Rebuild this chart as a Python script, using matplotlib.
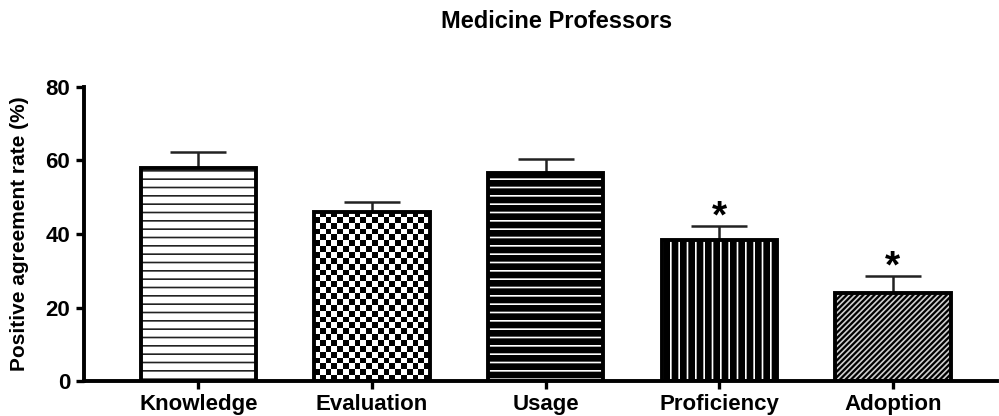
import numpy as np
import matplotlib
matplotlib.use("Agg")
from matplotlib import pyplot as plt

plt.rcParams['font.family'] = ['Liberation Sans', 'DejaVu Sans']
plt.rcParams['hatch.linewidth'] = 1.2

categories = ['Knowledge', 'Evaluation', 'Usage', 'Proficiency', 'Adoption']
rates = [58.0, 46.1, 56.5, 38.4, 24.0]
errors = [4.3, 2.7, 3.9, 3.8, 4.6]
significant = [False, False, False, True, True]
yticks = [0, 20, 40, 60, 80]

fig = plt.figure(figsize=(9.99, 4.16), dpi=100)
ax = fig.add_axes([0.084, 0.084, 0.914, 0.707])

x = np.arange(len(categories))
w = 0.665

ax.set_xlim(-0.66, 4.6)
ax.set_ylim(0, 80)

# fill styles per bar: (face, hatch colour, hatch)
styles = [('white', '#222222', '--'),
          (None, None, None),          # checkerboard drawn as image
          ('black', 'white', '--'),
          ('black', 'white', '||'),
          ('black', '#d0d0d0', '//////')]

for i, (face, hc, hatch) in enumerate(styles):
    if face is not None:
        ax.bar(x[i], rates[i], w, color=face, edgecolor=hc, hatch=hatch,
               linewidth=0, zorder=2)
    else:
        b = ax.bar(x[i], rates[i], w, color='white', linewidth=0, zorder=2)[0]
        # square cells: work out bar size in pixels
        p0 = ax.transData.transform((b.get_x(), 0))
        p1 = ax.transData.transform((b.get_x() + b.get_width(), b.get_height()))
        nx = 20
        ny = max(1, int(round(nx * (p1[1] - p0[1]) / (p1[0] - p0[0]))))
        board = (np.indices((ny, nx)).sum(axis=0) % 2).astype(float)
        im = ax.imshow(board, cmap='gray_r', interpolation='nearest', aspect='auto',
                       extent=[b.get_x(), b.get_x() + b.get_width(),
                               0, b.get_height()],
                       zorder=2.5)
        im.set_clip_path(b)

# outlines
ax.bar(x, rates, w, facecolor='none', edgecolor='black', linewidth=2.8, zorder=3)

# error bars (upper only)
ax.errorbar(x, rates, yerr=[np.zeros(len(errors)), errors], fmt='none',
            ecolor='#222222', elinewidth=1.8, capsize=20, capthick=1.8, zorder=1)

for i, s in enumerate(significant):
    if s:
        ax.annotate('*', (x[i], rates[i] + errors[i]), xytext=(0, -7),
                    textcoords='offset points', ha='center', va='bottom',
                    fontsize=28, fontweight='bold')

ax.set_xlim(-0.66, 4.6)
ax.set_ylim(0, 80)
ax.set_yticks(yticks)
ax.set_xticks(x)
ax.set_xticklabels(categories, fontsize=16, fontweight='bold')
for lab in ax.get_yticklabels():
    lab.set_fontsize(16)
    lab.set_fontweight('bold')
ax.set_ylabel('Positive agreement rate (%)', fontsize=15, fontweight='bold', labelpad=12)
fig.text(0.557, 1 - 28 / 416, 'Medicine Professors', ha='center', va='baseline',
         fontsize=17, fontweight='bold')

for side in ['top', 'right']:
    ax.spines[side].set_visible(False)
for side in ['left', 'bottom']:
    ax.spines[side].set_linewidth(2.8)
ax.tick_params(axis='both', width=2.4, length=6, pad=2)
ax.tick_params(axis='x', pad=3)
ax.tick_params(axis='y', pad=4)

fig.savefig('out.png', dpi=100)
